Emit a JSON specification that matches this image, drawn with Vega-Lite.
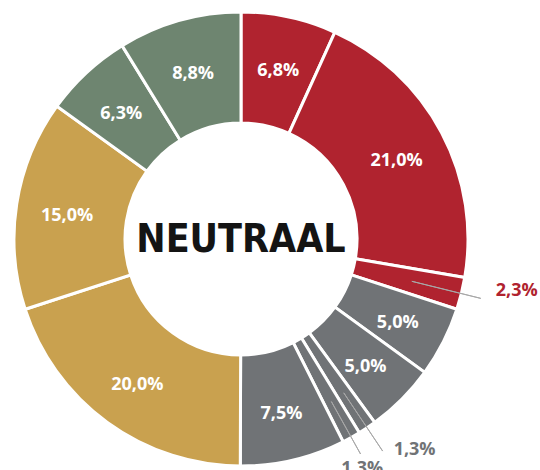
{
  "$schema": "https://vega.github.io/schema/vega-lite/v6.json",
  "width": 482,
  "height": 478,
  "autosize": "none",
  "padding": {"left": 0, "top": 0, "right": 58, "bottom": 0},
  "background": "white",
  "config": {"view": {"stroke": null}},
  "data": {"values": [
    {"id": 1, "groep": "rood", "waarde": 6.8, "label": "6,8%"},
    {"id": 2, "groep": "rood", "waarde": 21.0, "label": "21,0%"},
    {"id": 3, "groep": "rood", "waarde": 2.3, "label": "2,3%"},
    {"id": 4, "groep": "grijs", "waarde": 5.0, "label": "5,0%"},
    {"id": 5, "groep": "grijs", "waarde": 5.0, "label": "5,0%"},
    {"id": 6, "groep": "grijs", "waarde": 1.3, "label": "1,3%"},
    {"id": 7, "groep": "grijs", "waarde": 1.3, "label": "1,3%"},
    {"id": 8, "groep": "grijs", "waarde": 7.5, "label": "7,5%"},
    {"id": 9, "groep": "goud", "waarde": 20.0, "label": "20,0%"},
    {"id": 10, "groep": "goud", "waarde": 15.0, "label": "15,0%"},
    {"id": 11, "groep": "groen", "waarde": 6.3, "label": "6,3%"},
    {"id": 12, "groep": "groen", "waarde": 8.8, "label": "8,8%"}
  ]},
  "layer": [
    {
      "mark": {"type": "arc", "radius": 227, "radius2": 116, "stroke": "white", "strokeWidth": 3},
      "encoding": {
        "theta": {"field": "waarde", "type": "quantitative", "stack": true},
        "order": {"field": "id", "type": "quantitative"},
        "color": {"field": "groep", "type": "nominal", "legend": null,
          "scale": {"domain": ["rood", "grijs", "goud", "groen"], "range": ["#B0232F", "#707376", "#C9A14F", "#6E8570"]}}
      }
    },
    {
      "mark": {"type": "arc", "radius": 176, "radius2": 247, "padAngle": 0.3, "filled": false, "stroke": "#a8a8a8", "strokeWidth": 1},
      "encoding": {
        "theta": {"field": "waarde", "type": "quantitative", "stack": true},
        "order": {"field": "id", "type": "quantitative"},
        "opacity": {"condition": {"test": "datum.id == 3", "value": 1}, "value": 0}
      }
    },
    {
      "mark": {"type": "arc", "radius": 185, "radius2": 255, "padAngle": 0.3, "filled": false, "stroke": "#a8a8a8", "strokeWidth": 1},
      "encoding": {
        "theta": {"field": "waarde", "type": "quantitative", "stack": true},
        "order": {"field": "id", "type": "quantitative"},
        "opacity": {"condition": {"test": "datum.id == 6", "value": 1}, "value": 0}
      }
    },
    {
      "mark": {"type": "arc", "radius": 186, "radius2": 246, "padAngle": 0.3, "filled": false, "stroke": "#a8a8a8", "strokeWidth": 1},
      "encoding": {
        "theta": {"field": "waarde", "type": "quantitative", "stack": true},
        "order": {"field": "id", "type": "quantitative"},
        "opacity": {"condition": {"test": "datum.id == 7", "value": 1}, "value": 0}
      }
    },
    {
      "mark": {"type": "text", "radius": 176, "dy": 4, "font": "Open Sans", "fontWeight": "bold", "fontSize": 18},
      "encoding": {
        "theta": {"field": "waarde", "type": "quantitative", "stack": true},
        "order": {"field": "id", "type": "quantitative"},
        "color": {"value": "white"},
        "text": {"condition": {"test": "datum.id != 3 && datum.id != 6 && datum.id != 7", "field": "label"}, "value": ""}
      }
    },
    {
      "mark": {"type": "text", "radius": 280, "dx": 4, "dy": -15, "font": "Open Sans", "fontWeight": "bold", "fontSize": 18},
      "encoding": {
        "theta": {"field": "waarde", "type": "quantitative", "stack": true},
        "order": {"field": "id", "type": "quantitative"},
        "color": {"value": "#B0232F"},
        "text": {"condition": {"test": "datum.id == 3", "field": "label"}, "value": ""}
      }
    },
    {
      "mark": {"type": "text", "radius": 273, "dx": 22, "dy": -16, "font": "Open Sans", "fontWeight": "bold", "fontSize": 18},
      "encoding": {
        "theta": {"field": "waarde", "type": "quantitative", "stack": true},
        "order": {"field": "id", "type": "quantitative"},
        "color": {"value": "#707376"},
        "text": {"condition": {"test": "datum.id == 6", "field": "label"}, "value": ""}
      }
    },
    {
      "mark": {"type": "text", "radius": 260, "dx": -5, "dy": 3, "font": "Open Sans", "fontWeight": "bold", "fontSize": 18},
      "encoding": {
        "theta": {"field": "waarde", "type": "quantitative", "stack": true},
        "order": {"field": "id", "type": "quantitative"},
        "color": {"value": "#707376"},
        "text": {"condition": {"test": "datum.id == 7", "field": "label"}, "value": ""}
      }
    },
    {
      "data": {"values": [{"tekst": "NEUTRAAL"}]},
      "mark": {"type": "text", "font": "DejaVu Sans Condensed", "fontWeight": "bold", "fontSize": 39, "color": "#141414", "dy": 1},
      "encoding": {"text": {"field": "tekst"}}
    }
  ]
}
